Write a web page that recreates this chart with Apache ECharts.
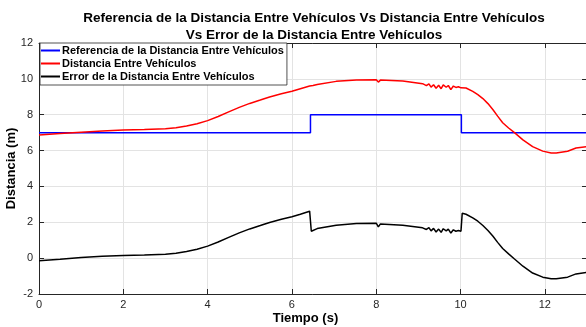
<!DOCTYPE html>
<html>
<head>
<meta charset="utf-8">
<script src="https://cdn.jsdelivr.net/npm/echarts@6/dist/echarts.min.js"></script>
<style>
  html, body { margin: 0; padding: 0; background: #fff; }
  #chart { width: 586px; height: 327px; }
</style>
</head>
<body>
<div id="chart"></div>
<script>
// tiempo (s) shared by the distance and error curves
var tiempo = [0, 0.5, 1, 1.5, 2, 2.5, 3, 3.25, 3.5, 3.75, 4, 4.25, 4.5, 4.75, 5, 5.25, 5.47, 5.75, 6, 6.2, 6.42, 6.46, 6.5, 6.6, 7.05, 7.53, 8, 8.05, 8.1, 8.63, 9.1,
  9.19, 9.25, 9.3, 9.36, 9.42, 9.48, 9.54, 9.59, 9.66, 9.71, 9.77, 9.83, 9.89, 9.95, 10.01, 10.04, 10.13, 10.29, 10.41, 10.53, 10.65, 10.77,
  10.88, 11, 11.14, 11.28, 11.48, 11.71, 11.95, 12.15, 12.27, 12.3, 12.54, 12.58, 12.74, 13];
var distancia = [6.87, 6.95, 7.02, 7.09, 7.15, 7.18, 7.22, 7.27, 7.37, 7.5, 7.67, 7.9, 8.16, 8.41, 8.63, 8.82, 8.99, 9.17, 9.31, 9.45, 9.6, 9.62, 9.63, 9.68, 9.86, 9.93, 9.95, 9.82, 9.93, 9.88, 9.73,
  9.62, 9.72, 9.54, 9.67, 9.48, 9.64, 9.45, 9.66, 9.53, 9.63, 9.4, 9.6, 9.52, 9.56, 9.5, 9.52, 9.49, 9.3, 9.12, 8.9, 8.62, 8.28,
  7.92, 7.55, 7.26, 7.0, 6.6, 6.22, 5.97, 5.87, 5.87, 5.92, 5.96, 6.07, 6.14, 6.22];
var error = [-0.15, -0.06, 0.04, 0.1, 0.15, 0.18, 0.22, 0.27, 0.37, 0.5, 0.67, 0.9, 1.16, 1.41, 1.63, 1.82, 1.99, 2.17, 2.31, 2.45, 2.62, 1.5, 1.42, 1.65, 1.84, 1.93, 1.95, 1.74, 1.91, 1.84, 1.69,
  1.6, 1.7, 1.52, 1.66, 1.46, 1.62, 1.44, 1.64, 1.52, 1.62, 1.4, 1.58, 1.5, 1.54, 1.5, 2.5, 2.45, 2.25, 2.06, 1.82, 1.54, 1.22,
  0.88, 0.54, 0.24, -0.05, -0.45, -0.83, -1.06, -1.15, -1.15, -1.1, -1.06, -0.96, -0.88, -0.79];
// reference steps
var refTiempo = [0, 6.44, 6.44, 10.02, 10.02, 13];
var referencia = [7, 7, 8, 8, 7, 7];

var xTicks = [0, 2, 4, 6, 8, 10, 12];
var yTicks = [-2, 0, 2, 4, 6, 8, 10, 12];

var nombres = ['Referencia de la Distancia Entre Vehículos', 'Distancia Entre Vehículos', 'Error de la Distancia Entre Vehículos'];

function pares(xs, ys){
  var out = [];
  for (var i = 0; i < xs.length; i++) out.push([xs[i], ys[i]]);
  return out;
}

var font = 'Liberation Sans, Arial, Helvetica, sans-serif';
var axisColor = '#262626';

var myChart = echarts.init(document.getElementById('chart'), null, {renderer: 'canvas'});
var option = {
  animation: false,
  backgroundColor: '#fff',
  title: {
    text: 'Referencia de la Distancia Entre Vehículos Vs Distancia Entre Vehículos\nVs Error de la Distancia Entre Vehículos',
    left: 312,
    top: 8,
    padding: 2,
    textAlign: 'center',
    textStyle: {fontFamily: font, fontSize: 13.5, fontWeight: 'bold', color: '#000', lineHeight: 17}
  },
  legend: {
    orient: 'vertical',
    left: 40,
    top: 43,
    padding: [1, 3, 2, 1],
    itemGap: 0,
    itemWidth: 19,
    itemHeight: 2,
    icon: 'rect',
    backgroundColor: '#fff',
    borderColor: axisColor,
    borderWidth: 0.8,
    borderRadius: 0,
    z: 10,
    textStyle: {fontFamily: font, fontSize: 11, fontWeight: 'bold', color: '#000', lineHeight: 13, padding: [0, 0, 0, -3]},
    data: nombres
  },
  grid: {left: 39, top: 43, width: 548, height: 251, containLabel: false, outerBoundsMode: 'none'},
  xAxis: [{
    type: 'value', min: 0, max: 13, interval: 2,
    name: 'Tiempo (s)', nameLocation: 'middle', nameGap: 18, nameMoveOverlap: false,
    nameTextStyle: {fontFamily: font, fontSize: 13, fontWeight: 'bold', color: '#000', padding: [0, 15, 0, 0]},
    axisLine: {onZero: false, lineStyle: {color: axisColor, width: 1}},
    axisTick: {inside: true, length: 5, lineStyle: {color: axisColor}},
    axisLabel: {fontFamily: font, fontSize: 11, color: axisColor, margin: 5,
      formatter: function(v){ return xTicks.indexOf(v) >= 0 ? String(v) : ''; }},
    splitLine: {show: true, lineStyle: {color: '#e3e3e3', width: 1}}
  }, {
    type: 'value', min: 0, max: 13, interval: 2, position: 'top',
    axisLine: {onZero: false, lineStyle: {color: axisColor, width: 1}},
    axisTick: {inside: true, length: 5, lineStyle: {color: axisColor}},
    axisLabel: {show: false},
    splitLine: {show: false}
  }],
  yAxis: [{
    type: 'value', min: -2, max: 12, interval: 2,
    name: 'Distancia (m)', nameLocation: 'middle', nameGap: 21, nameMoveOverlap: false,
    nameTextStyle: {fontFamily: font, fontSize: 13, fontWeight: 'bold', color: '#000'},
    axisLine: {show: true, onZero: false, lineStyle: {color: axisColor, width: 1}},
    axisTick: {show: true, inside: true, length: 5, lineStyle: {color: axisColor}},
    axisLabel: {fontFamily: font, fontSize: 11, color: axisColor, margin: 6,
      formatter: function(v){ return yTicks.indexOf(v) >= 0 ? String(v) : ''; }},
    splitLine: {show: true, lineStyle: {color: '#e3e3e3', width: 1}}
  }, {
    type: 'value', min: -2, max: 12, interval: 2, position: 'right',
    axisLine: {show: true, onZero: false, lineStyle: {color: axisColor, width: 1}},
    axisTick: {show: true, inside: true, length: 5, lineStyle: {color: axisColor}},
    axisLabel: {show: false},
    splitLine: {show: false}
  }],
  series: [{
    name: nombres[0], type: 'line', showSymbol: false, symbol: 'none',
    data: pares(refTiempo, referencia),
    itemStyle: {color: '#0000ff'},
    lineStyle: {color: '#0000ff', width: 1.5}
  }, {
    name: nombres[1], type: 'line', showSymbol: false, symbol: 'none',
    data: pares(tiempo, distancia),
    itemStyle: {color: '#ff0000'},
    lineStyle: {color: '#ff0000', width: 1.5}
  }, {
    name: nombres[2], type: 'line', showSymbol: false, symbol: 'none',
    data: pares(tiempo, error),
    itemStyle: {color: '#000000'},
    lineStyle: {color: '#000000', width: 1.5}
  }]
};
myChart.setOption(option);
</script>
</body>
</html>
